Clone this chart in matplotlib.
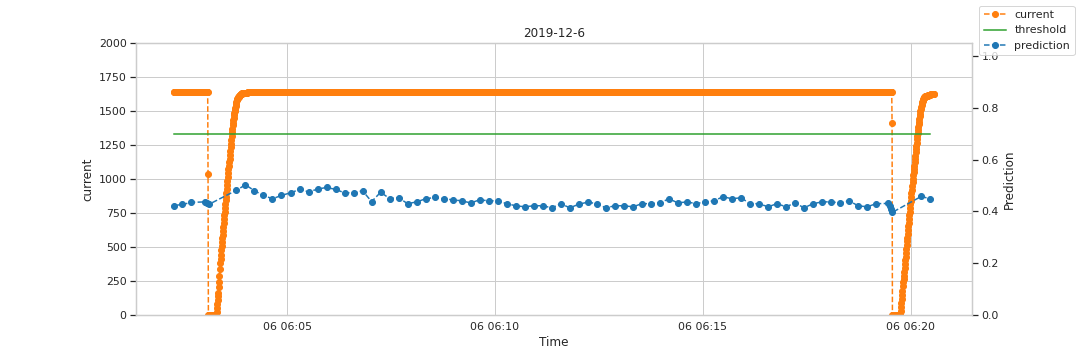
import matplotlib
matplotlib.use("Agg")
import matplotlib.pyplot as plt
import matplotlib.dates as mdates
import pandas as pd

# whitegrid look, notebook sizes
plt.rcParams.update({
    "axes.edgecolor": "0.8",
    "axes.linewidth": 1.25,
    "axes.grid": True,
    "axes.axisbelow": True,
    "grid.color": "0.8",
    "grid.linewidth": 1,
    "axes.labelcolor": "0.15",
    "text.color": "0.15",
    "xtick.color": "0.15",
    "ytick.color": "0.15",
    "xtick.bottom": False,
    "font.size": 12,
    "axes.labelsize": 12,
    "axes.titlesize": 12,
    "xtick.labelsize": 11,
    "ytick.labelsize": 11,
    "legend.fontsize": 11,
    "ytick.major.size": 6,
    "ytick.major.width": 1.25,
})

day = "2019-12-06 "

# current: one sample every 0.5 s starting 06:02:17
current_start = day + "06:02:17"
current_step = "500ms"
plateau = 1640
ramp_up_1 = [0, 25, 50, 80, 110, 140, 165,
             205, 245, 290, 335, 380, 415,
             445, 475, 505, 535, 565, 590, 615, 645,
             675, 705, 735, 760, 790, 815, 845, 870, 895,
             925, 955, 985, 1015, 1045, 1075, 1100, 1125, 1150,
             1180, 1205, 1235, 1260, 1290, 1315, 1345, 1370, 1395, 1415, 1435,
             1452, 1468, 1484, 1498, 1512, 1525, 1538, 1552, 1565, 1580,
             1586, 1592, 1597, 1602, 1606, 1610, 1613, 1616, 1619, 1621, 1623, 1625, 1627, 1629,
             1630, 1631, 1632, 1632, 1633, 1633, 1634, 1634, 1635, 1635, 1636, 1636, 1636,
             1637, 1637, 1637, 1638, 1638]
ramp_up_2 = [30, 60, 90, 120, 150, 180, 210, 240, 265, 290,
             318, 346, 374, 402, 430, 458, 486, 514, 542, 570, 598, 626,
             653, 680, 707, 734, 761, 788, 815, 842, 869, 896, 923, 950, 977, 1004,
             1028, 1052, 1076, 1100, 1124, 1148, 1172, 1196, 1220, 1244, 1268, 1292, 1316, 1340, 1362,
             1382, 1402, 1422, 1442, 1462, 1480, 1498, 1514, 1530, 1545, 1558,
             1568, 1576, 1583, 1589, 1594, 1598, 1601, 1604, 1606, 1608, 1609, 1610, 1611, 1612,
             1613, 1614, 1615, 1616, 1617, 1618, 1619, 1620, 1621, 1622, 1623, 1624, 1625, 1625,
             1626, 1627, 1627, 1628, 1628, 1629, 1629]
current = ([plateau] * 98 + [1040] + [0] * 23 + ramp_up_1
           + [plateau] * 1858 + [1410] + [0] * 24 + ramp_up_2)
current_time = pd.date_range(current_start, periods=len(current), freq=current_step)

pred_clock = ["06:02:17", "06:02:29", "06:02:42", "06:03:02", "06:03:05", "06:03:07",
              "06:03:47", "06:04:00", "06:04:13", "06:04:26", "06:04:39", "06:04:52",
              "06:05:05", "06:05:18", "06:05:31", "06:05:44", "06:05:57", "06:06:10",
              "06:06:23", "06:06:36", "06:06:49", "06:07:02", "06:07:15", "06:07:28",
              "06:07:41", "06:07:54", "06:08:07", "06:08:20", "06:08:33", "06:08:46",
              "06:08:59", "06:09:12", "06:09:25", "06:09:38", "06:09:51", "06:10:04",
              "06:10:17", "06:10:30", "06:10:43", "06:10:56", "06:11:09", "06:11:22",
              "06:11:35", "06:11:48", "06:12:01", "06:12:14", "06:12:27", "06:12:40",
              "06:12:53", "06:13:06", "06:13:19", "06:13:32", "06:13:45", "06:13:58",
              "06:14:11", "06:14:24", "06:14:37", "06:14:50", "06:15:03", "06:15:16",
              "06:15:29", "06:15:42", "06:15:55", "06:16:08", "06:16:21", "06:16:34",
              "06:16:47", "06:17:00", "06:17:13", "06:17:26", "06:17:39", "06:17:52",
              "06:18:05", "06:18:18", "06:18:31", "06:18:44", "06:18:57", "06:19:10",
              "06:19:27", "06:19:30", "06:19:32", "06:19:33", "06:20:15", "06:20:28"]
prediction = [0.423, 0.427, 0.435, 0.437, 0.433, 0.427,
              0.482, 0.503, 0.480, 0.462, 0.449, 0.462,
              0.472, 0.485, 0.476, 0.486, 0.493, 0.485,
              0.472, 0.472, 0.480, 0.438, 0.474, 0.450,
              0.453, 0.430, 0.437, 0.449, 0.454, 0.449,
              0.445, 0.441, 0.433, 0.445, 0.441, 0.441,
              0.430, 0.422, 0.418, 0.422, 0.422, 0.414,
              0.430, 0.414, 0.428, 0.436, 0.430, 0.414,
              0.422, 0.422, 0.418, 0.430, 0.430, 0.433,
              0.449, 0.433, 0.437, 0.430, 0.437, 0.441,
              0.457, 0.449, 0.453, 0.430, 0.430, 0.418,
              0.430, 0.418, 0.433, 0.414, 0.430, 0.437,
              0.437, 0.433, 0.441, 0.422, 0.418, 0.430,
              0.431, 0.423, 0.408, 0.396, 0.458, 0.449]
pred_time = pd.to_datetime([day + t for t in pred_clock])
threshold = [0.7] * len(pred_time)

fig, ax = plt.subplots(figsize=(15, 5), dpi=72)
fig.subplots_adjust(left=0.126, right=0.9, top=0.88, bottom=0.125)

ax.plot(current_time, current, "o--", color="#ff7f0e", label="current")
ax.set_ylim(0, 2000)
ax.set_ylabel("current")
ax.set_xlabel("Time")
ax.set_title("2019-12-6")
ax.xaxis.set_major_locator(mdates.MinuteLocator(byminute=range(0, 60, 5)))
ax.xaxis.set_major_formatter(mdates.DateFormatter("%d %H:%M"))

ax2 = ax.twinx()
ax2.plot(pred_time, threshold, color="#2ca02c", label="threshold")
ax2.plot(pred_time, prediction, "o--", color="#1f77b4", label="prediction")
ax2.set_ylim(0, 1.05)
ax2.set_ylabel("Prediction")
ax2.grid(False)

fig.legend(loc="upper right")
fig.savefig("out.png")
